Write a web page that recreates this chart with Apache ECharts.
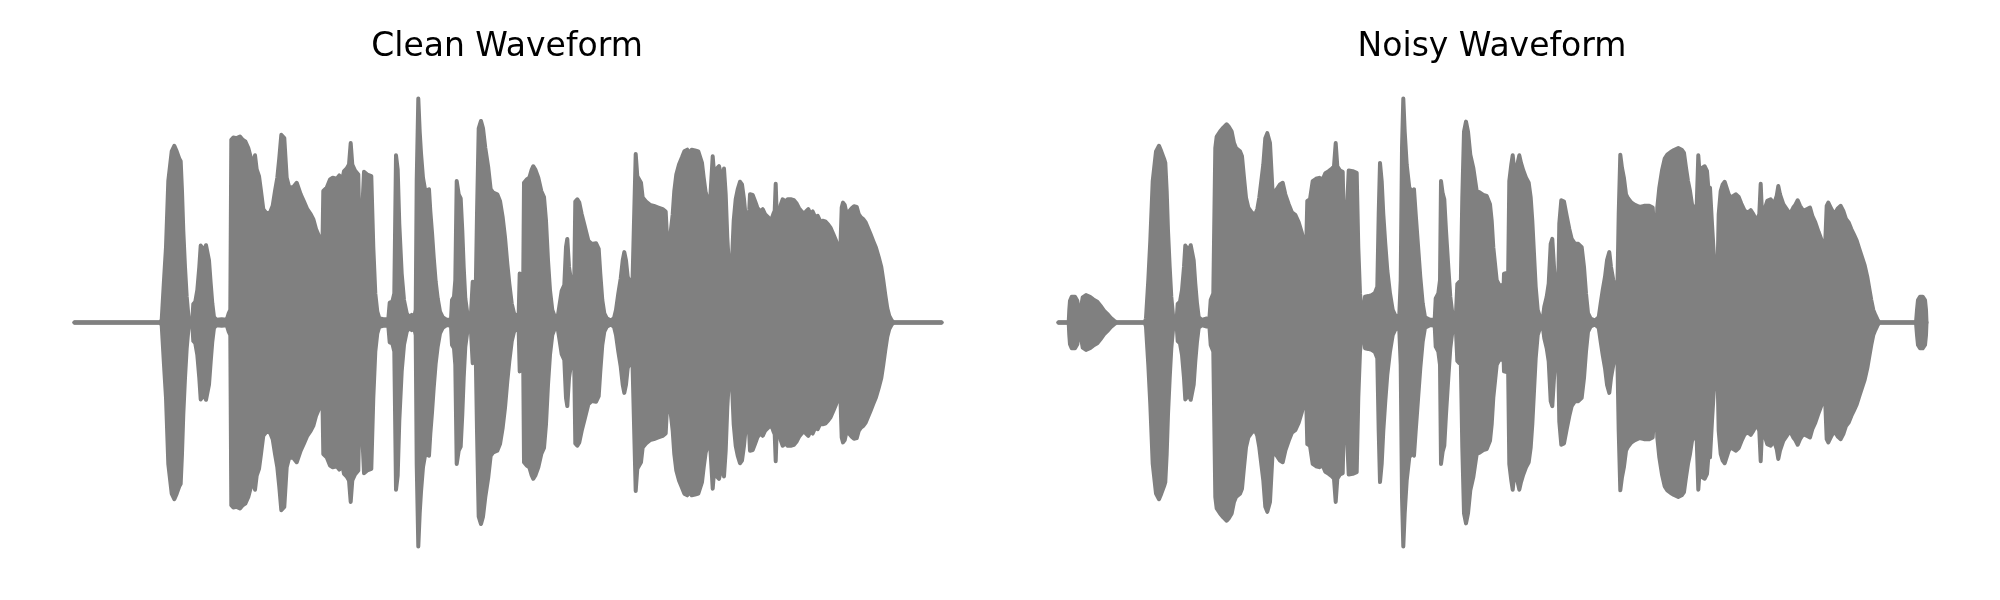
<!DOCTYPE html>
<html>
<head>
<meta charset="utf-8">
<script src="https://cdn.jsdelivr.net/npm/echarts@6/dist/echarts.min.js"></script>
<style>
html,body{margin:0;padding:0;background:#fff;}
#chart{width:2000px;height:600px;}
</style>
</head>
<body>
<div id="chart"></div>
<script>
// Panel titles
const titles = ['Clean Waveform', 'Noisy Waveform'];

// Clean waveform envelope: time (arbitrary ticks) and peak amplitude (arbitrary units, full scale 678)
const cleanT = [0,85.5,87.2,89.5,91.5,93.8,97.2,99.8,102.2,104.8,106.2,107.5,108.8,110.5,112.2,114.2,116.2,117.8,118.8,120.8,122.8,124.8,126.2,127.5,129.5,131.5,132.8,134.5,136.2,137.8,139.5,142.2,147.2,152.2,154.2,155.8,156.8,158.8,162.2,165.5,168.2,170.8,173.8,176.8,178.8,180.5,182.2,184.5,186.5,188.8,192.2,195.5,198.2,200.5,202.8,204.8,206.8,208.2,209.8,212.2,214.8,
218.8,222.2,224.2,226.2,229.5,232.8,236.2,238.8,241.5,244.2,246.5,247.8,248.8,252.2,255.5,258.2,262.2,264.8,267.5,269.5,272.2,274.5,276.2,277.8,280.5,283.8,285.5,287.5,289.5,292.8,296.8,298.8,300.8,302.8,304.8,308.8,313.8,315.2,317.8,319.8,321.5,323.2,324.8,327.2,329.5,332.2,334.8,337.2,339.5,341.2,342.2,343.8,345.2,346.5,348.5,350.8,352.8,354.5,355.8,357.5,359.2,361.2,363.2,365.5,368.2,372.2,376.5,377.5,379.5,380.8,382.2,384.2,386.2,387.8,389.2,390.8,392.8,394.8,396.5,398.2,399.8,401.2,402.5,404.2,406.5,408.5,410.8,413.8,416.2,418.8,422.8,425.5,428.2,430.5,432.8,434.8,437.2,439.5,442.2,444.2,
445.2,447.2,448.5,449.5,452.2,454.8,457.2,458.8,460.8,463.8,466.8,469.5,471.5,473.5,475.5,477.8,480.5,482.8,484.8,487.2,489.8,491.5,492.8,494.5,496.5,498.2,499.5,500.8,502.8,504.8,507.2,510.5,513.8,517.2,521.5,524.2,525.8,527.8,529.8,532.2,536.2,539.5,541.5,543.8,546.2,548.2,549.8,551.5,553.2,555.5,557.8,559.8,561.2,562.8,564.8,566.5,568.2,571.5,575.5,579.5,583.8,588.2,591.2,592.5,594.5,596.2,598.2,599.8,601.8,604.5,607.5,609.8,612.8,614.8,617.2,620.5,623.8,625.8,627.5,629.2,631.2,633.2,635.2,636.8,638.2,639.8,642.2,644.5,646.5,648.2,649.5,651.2,652.8,654.5,656.5,657.8,659.2,661.2,663.2,665.5,667.5,669.5,671.5,673.2,674.8,
675.5,678.2,680.5,682.8,685.5,688.2,690.5,693.8,696.5,698.8,700.2,701.2,702.2,704.2,706.2,708.2,710.8,713.2,716.2,719.5,722.2,724.5,726.5,728.8,731.5,733.8,735.8,738.2,740.5,743.2,745.2,746.5,748.2,750.8,753.8,756.2,758.8,761.5,763.8,765.8,767.2,768.5,770.2,772.2,774.5,777.2,779.5,782.2,784.2,786.5,788.8,791.2,793.5,796.2,798.8,801.5,804.2,806.8,808.8,810.8,812.8,814.8,817.2,819.5,867];
const cleanA = [0,0,8,128,228,428,518,535,518,496,488,398,278,168,78,10,13,8,56,63,98,168,233,236,218,234,230,188,118,58,16,8,10,8,28,38,553,560,558,563,553,548,528,493,483,506,463,443,398,343,330,333,353,398,438,498,568,573,558,438,408,
410,423,418,388,366,343,328,313,283,263,228,208,398,408,433,438,435,445,428,458,466,478,543,478,460,448,188,183,456,448,443,228,88,33,13,10,10,60,63,88,506,463,298,148,68,28,16,23,13,38,428,678,578,513,438,398,393,403,338,273,198,123,73,33,16,8,10,68,78,128,428,388,376,278,168,73,28,16,28,123,116,88,328,588,610,588,528,468,403,393,388,368,318,258,178,118,58,28,16,28,
148,148,40,423,433,438,463,473,463,438,398,380,308,188,98,38,16,10,48,96,113,228,253,168,128,88,78,366,373,363,328,288,248,238,240,223,148,68,28,13,6,13,38,88,133,188,213,188,138,123,98,103,510,443,438,423,378,366,356,353,348,343,336,258,228,233,328,398,448,478,500,518,523,513,523,521,518,513,483,438,393,373,348,343,503,443,466,473,448,418,466,388,258,168,120,123,308,373,403,426,418,373,308,288,343,
388,386,368,348,336,343,328,318,308,328,338,420,328,316,356,373,366,373,373,370,360,346,348,330,336,343,330,336,320,323,310,288,308,306,296,286,268,248,228,218,348,363,356,328,336,346,352,350,328,318,313,303,286,266,246,226,198,168,128,83,43,20,6,0,0];

// Noisy waveform envelope: same units
const noisyT = [0,10.2,10.8,11.5,13.2,16.5,18.8,19.8,20.5,22.5,23.2,24.2,27.5,31.5,34.8,38.8,42.2,45.5,48.8,52.2,55.5,58.2,86.2,87.5,89.8,91.8,94.2,97.5,100.5,102.8,105.5,106.8,108.2,109.5,111.2,112.8,114.8,116.8,118.2,119.2,121.5,123.5,125.5,126.8,128.2,130.2,132.2,133.5,135.2,136.8,138.5,140.2,143.2,148.2,150.8,152.2,154.8,156.8,158.2,161.5,164.8,168.2,170.2,173.2,175.5,177.5,179.5,181.5,183.5,185.5,187.5,189.8,193.2,196.5,198.8,200.8,202.8,204.8,206.8,208.8,210.8,
211.5,214.2,218.2,221.5,224.2,226.8,230.2,233.5,236.8,240.2,243.2,245.5,247.5,248.8,251.5,254.2,257.5,260.8,264.2,266.8,270.2,273.5,275.5,277.2,278.8,281.5,284.2,286.2,288.2,290.2,294.2,298.2,299.8,301.5,303.5,305.5,306.5,309.8,313.2,316.5,318.8,320.2,321.5,323.2,324.8,326.8,328.8,331.5,334.2,336.5,338.8,340.8,342.2,343.5,344.8,346.2,348.2,350.8,353.5,355.5,357.2,359.5,361.8,364.2,366.5,371.5,376.2,377.2,379.8,381.5,382.5,384.2,385.8,387.5,389.8,391.8,393.8,395.8,397.5,398.8,400.8,402.2,403.8,405.5,407.5,409.5,411.8,414.8,418.2,421.5,424.8,428.2,431.5,433.2,434.8,438.2,440.8,443.2,444.4,
445.5,448.2,449.5,450.8,452.8,454.2,455.5,457.5,459.5,460.8,462.5,464.8,467.5,470.2,472.2,473.8,475.5,477.2,479.2,481.5,484.2,485.8,488.2,490.2,492.2,493.8,495.5,497.5,499.5,500.8,502.8,505.5,508.2,510.8,513.2,516.5,519.8,523.2,525.5,527.5,529.5,532.2,536.5,540.2,542.2,544.2,546.5,548.5,550.8,552.5,554.8,557.2,558.8,560.2,561.8,563.5,565.5,567.5,569.5,572.8,576.5,580.8,585.5,590.8,594.2,595.8,597.5,598.8,600.8,603.5,606.2,608.8,612.2,615.5,619.8,623.2,625.5,627.5,629.5,631.5,633.5,636.2,638.2,639.8,641.5,643.5,646.2,648.5,650.2,651.5,653.5,655.5,657.5,658.8,660.2,662.2,664.2,666.2,668.2,670.2,
672.2,674.8,677.5,680.2,682.8,686.2,689.5,692.2,694.8,698.2,700.8,702.2,703.5,706.2,708.8,712.2,715.5,718.2,719.8,721.5,724.8,728.2,731.5,734.8,736.8,739.2,741.5,744.8,748.2,751.5,753.8,756.8,760.2,763.5,766.5,768.2,769.8,772.2,774.2,776.8,779.5,782.2,784.8,787.5,790.2,792.8,795.5,798.2,800.8,803.5,806.2,808.8,810.8,812.8,814.8,816.8,818.8,820.8,857.5,858.5,859.5,861.5,864.2,866.5,867.5,868];
const noisyA = [0,0,38,66,78,78,66,38,0,0,58,76,83,78,70,63,50,36,26,14,6,0,0,13,128,248,428,518,535,518,496,483,398,278,168,78,12,16,12,56,63,98,168,233,236,218,234,230,188,118,58,16,8,12,8,68,88,528,563,578,590,600,593,578,543,528,533,518,503,438,378,348,333,326,343,378,428,478,558,573,568,
543,388,403,418,423,388,358,333,326,303,273,243,208,368,373,428,435,438,433,452,458,466,473,543,473,460,456,188,183,460,458,453,228,88,33,13,78,80,83,90,108,328,483,428,328,238,158,88,38,23,16,23,128,528,678,578,478,408,396,403,328,233,138,58,16,8,10,73,88,128,428,390,373,278,168,78,28,13,28,116,123,98,378,578,608,578,508,468,398,393,386,383,358,308,228,128,113,113,38,
148,150,108,428,478,506,468,458,488,506,483,460,438,423,378,308,208,108,38,16,10,48,78,118,238,253,168,88,68,300,370,366,323,283,253,238,238,228,168,88,28,12,6,16,58,98,138,188,213,168,128,98,88,328,508,468,436,388,376,363,356,350,353,353,348,273,238,348,408,460,496,508,516,522,528,523,513,468,428,398,358,343,353,506,433,468,473,458,393,408,298,198,128,118,328,398,418,426,423,388,
378,383,388,380,360,338,333,340,328,308,328,420,328,343,368,373,358,383,413,388,358,343,328,348,356,370,353,338,343,348,323,303,273,246,223,353,363,348,336,333,346,353,338,313,303,283,266,248,223,198,173,138,103,68,38,23,10,0,0,38,68,78,78,68,38,0];

const GRAY = '#808080';

function envelopeSeries(T, A, idx) {
  const common = {
    type: 'line', xAxisIndex: idx, yAxisIndex: idx,
    symbol: 'none', showSymbol: false, silent: true, clip: false, smooth: false,
    lineStyle: { width: 4, color: GRAY, cap: 'round', join: 'round' },
    itemStyle: { color: GRAY }
  };
  const upper = T.map((t, i) => [t, A[i]]);
  const lower = T.map((t, i) => [t, -A[i]]);
  const baseline = T.map(t => [t, 0]);
  return [
    Object.assign({}, common, { data: upper, areaStyle: { color: GRAY, opacity: 1 } }),
    Object.assign({}, common, { data: lower, areaStyle: { color: GRAY, opacity: 1 } }),
    Object.assign({}, common, { data: baseline, z: 3 })
  ];
}

const chart = echarts.init(document.getElementById('chart'), null, { renderer: 'canvas' });
chart.setOption({
  animation: false,
  backgroundColor: '#ffffff',
  grid: [
    { left: 74.5, top: 98.5, width: 867, height: 448 },
    { left: 1058.5, top: 98.5, width: 868, height: 448 }
  ],
  xAxis: [
    { gridIndex: 0, type: 'value', min: 0, max: cleanT[cleanT.length - 1], show: false },
    { gridIndex: 1, type: 'value', min: 0, max: noisyT[noisyT.length - 1], show: false }
  ],
  yAxis: [
    { gridIndex: 0, type: 'value', min: -678, max: 678, show: false },
    { gridIndex: 1, type: 'value', min: -678, max: 678, show: false }
  ],
  graphic: titles.map((txt, i) => ({
    type: 'text', x: [507, 1492][i], y: 47.5,
    style: { text: txt, align: 'center', verticalAlign: 'middle', fill: '#000000',
             fontSize: 33, fontFamily: '"DejaVu Sans", sans-serif' }
  })),
  series: [].concat(
    envelopeSeries(cleanT, cleanA, 0),
    envelopeSeries(noisyT, noisyA, 1)
  )
});
</script>
</body>
</html>
